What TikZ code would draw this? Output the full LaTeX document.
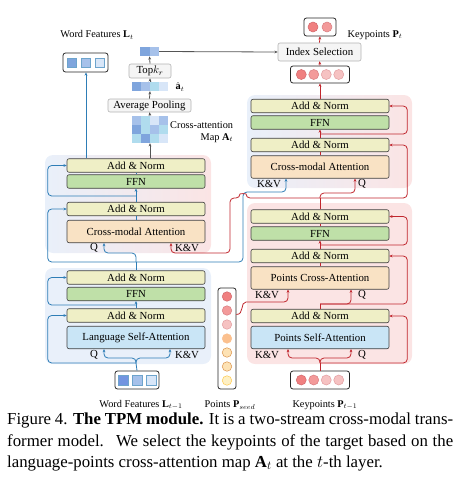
\documentclass[tikz,border=0pt]{standalone}
\usepackage{fontspec}
\setmainfont{Liberation Serif}
\usetikzlibrary{arrows.meta,calc}
\definecolor{bgblue}{HTML}{E9F0FA}
\definecolor{bgpink}{HTML}{FBE4E4}
\definecolor{cyel}{HTML}{EFEFC6}
\definecolor{cgrn}{HTML}{BFE0A8}
\definecolor{corg}{HTML}{F9E2C4}
\definecolor{cblu}{HTML}{C9E5F6}
\definecolor{lblue}{HTML}{2E7DB6}
\definecolor{lred}{HTML}{C0262D}
\definecolor{lgray}{HTML}{555555}
\definecolor{sqA}{HTML}{7FA5DD}
\definecolor{sqB}{HTML}{A6C1EA}
\definecolor{sqC}{HTML}{B0DCEE}
\definecolor{sqD}{HTML}{D8E6F8}
\definecolor{ciA}{HTML}{F08080}
\definecolor{ciB}{HTML}{F39A9A}
\definecolor{ciC}{HTML}{F6C2C2}
\definecolor{ciO}{HTML}{FBC08E}
\definecolor{ciY}{HTML}{FDE2B4}
\definecolor{ciP}{HTML}{FEF0C4}
\tikzset{
  tip/.style={-{Stealth[length=3.2pt,width=2.8pt]}},
  blk/.style={rectangle,rounded corners=2pt,draw=black!75,line width=0.6pt,minimum width=138pt,inner sep=0pt,font=\fontsize{10.8}{12}\selectfont},
  thin/.style={blk,minimum height=13.5pt},
  tall/.style={blk,minimum height=22.5pt},
  opbox/.style={rectangle,rounded corners=2pt,draw=black!30,fill=black!4,line width=0.6pt,inner sep=0pt,minimum height=14pt,font=\fontsize{10.8}{12}\selectfont},
  fbox/.style={rectangle,rounded corners=2.5pt,draw=black!85,line width=0.8pt,fill=white,inner sep=0pt},
  lab/.style={font=\fontsize{10.3}{12}\selectfont,inner sep=0pt},
  bl/.style={draw=lblue,line width=0.8pt,rounded corners=4pt},
  rd/.style={draw=lred,line width=0.8pt,rounded corners=4pt},
  gl/.style={draw=lgray,line width=0.8pt},
  sq/.style={rectangle,minimum size=9.5pt,inner sep=0pt,draw=lblue!70,line width=0.4pt},
  cel/.style={rectangle,minimum size=9pt,inner sep=0pt},
  ci/.style={circle,minimum size=9.5pt,inner sep=0pt,line width=0.5pt},
  captxt/.style={anchor=base west,inner sep=0pt,font=\fontsize{16.8}{20}\selectfont},
}
\begin{document}
\begin{tikzpicture}[x=1pt,y=-1pt]
\useasboundingbox (0,0) rectangle (456,485);
% backgrounds
\shade[left color=bgblue,right color=bgpink,rounded corners=8pt] (45,155) rectangle (211,253);
\fill[bgblue,rounded corners=8pt] (45,268) rectangle (211,364);
\shade[left color=bgblue,right color=bgpink,rounded corners=8pt] (247,95) rectangle (412,188);
\fill[bgpink,rounded corners=8pt] (247,203) rectangle (412,364);

% left stream
\node[thin,fill=cyel] (LAN2) at (136,165.5) {Add \& Norm};
\node[thin,fill=cgrn] (LFFN2) at (136,181.5) {FFN};
\node[thin,fill=cyel] (LAN1) at (136,209) {Add \& Norm};
\node[tall,fill=corg] (LCMA) at (136,231.5) {Cross-modal Attention};
\node[thin,fill=cyel] (LANb2) at (136,277.5) {Add \& Norm};
\node[thin,fill=cgrn] (LFFN1) at (136,294) {FFN};
\node[thin,fill=cyel] (LANb1) at (136,315.5) {Add \& Norm};
\node[tall,fill=cblu] (LSA) at (136,337.5) {Language Self-Attention};

% right stream
\node[thin,fill=cyel] (RAN4) at (320,106) {Add \& Norm};
\node[thin,fill=cgrn] (RFFN2) at (320,122.5) {FFN};
\node[thin,fill=cyel] (RAN3) at (320,145) {Add \& Norm};
\node[tall,fill=corg] (RCMA) at (320,167) {Cross-modal Attention};
\node[thin,fill=cyel] (RAN2) at (320,216.5) {Add \& Norm};
\node[thin,fill=cgrn] (RFFN1) at (320,233.5) {FFN};
\node[thin,fill=cyel] (RAN1) at (320,256) {Add \& Norm};
\node[tall,fill=corg] (RPCA) at (320,278) {Points Cross-Attention};
\node[thin,fill=cyel] (RAN0) at (320,316) {Add \& Norm};
\node[tall,fill=cblu] (RPSA) at (320,337.5) {Points Self-Attention};

% inputs
\node[fbox,minimum width=44pt,minimum height=18pt] (wbin) at (137,380) {};
\node[sq,fill=sqA!90!blue] at ([xshift=-14pt]wbin.center) {};
\node[sq,fill=sqB] at (wbin.center) {};
\node[sq,fill=sqD] at ([xshift=14pt]wbin.center) {};
\node[fbox,minimum width=18pt,minimum height=101pt] (seed) at (227,338.5) {};
\foreach \i/\c/\d in {0/ciA/lred!70,1/ciB/lred!60,2/ciC/lred!45,3/ciO/ciO,4/ciY/orange!80!black!70,5/ciY/orange!80!black!70,6/ciP/orange!60!yellow!70}
  \node[ci,fill=\c,draw=\d] at ([yshift=-\i*14pt+42pt]seed.center) {};
\node[fbox,minimum width=59pt,minimum height=18pt] (kbin) at (320,380) {};
\foreach \dx/\c/\d in {-18.75/ciA/lred!70,-6.25/ciB/lred!60,6.25/ciC/lred!45,18.75/ciC/lred!45}
  \node[ci,minimum size=10pt,fill=\c,draw=\d] at ([xshift=\dx pt]kbin.center) {};

% outputs
\node[fbox,minimum width=45pt,minimum height=19pt] (wbout) at (85.5,62.5) {};
\node[sq,fill=sqA] at ([xshift=-14pt]wbout.center) {};
\node[sq,fill=sqB] at (wbout.center) {};
\node[sq,fill=sqD] at ([xshift=14pt]wbout.center) {};
\node[fbox,minimum width=59pt,minimum height=17pt] (kp4) at (320,74.5) {};
\foreach \dx/\c/\d in {-18.75/ciA/lred!70,-6.25/ciB/lred!60,6.25/ciC/lred!45,18.75/ciC/lred!45}
  \node[ci,minimum size=10pt,fill=\c,draw=\d] at ([xshift=\dx pt]kp4.center) {};
\node[opbox,minimum width=83pt,minimum height=18pt] (idx) at (319.5,52) {Index Selection};
\node[fbox,minimum width=32pt,minimum height=18pt] (kp2) at (320,27) {};
\node[ci,minimum size=10pt,fill=ciA,draw=lred!70] at ([xshift=-7pt]kp2.center) {};
\node[ci,minimum size=10pt,fill=ciB,draw=lred!60] at ([xshift=7pt]kp2.center) {};

% attention map branch
\node[minimum width=36pt,minimum height=27pt,inner sep=0pt] (map) at (150,129.5) {};
\foreach \c [count=\k from 0] in {sqB,sqC,sqD,sqB,sqA,sqC,sqB,sqC,sqC,sqA,sqC,sqD}{
  \pgfmathtruncatemacro{\col}{mod(\k,4)}
  \pgfmathtruncatemacro{\row}{int(\k/4)}
  \node[cel,fill=\c] at ([xshift=\col*9pt-13.5pt,yshift=-\row*9pt+9pt]map.center) {};
}
\node[opbox,minimum width=83pt,minimum height=13pt] (avg) at (149.5,105.5) {Average Pooling};
\node[minimum width=36pt,minimum height=9pt,inner sep=0pt] (ahat) at (150,86.5) {};
\foreach \c [count=\k from 0] in {sqA,sqB,sqC,sqD}
  \node[cel,fill=\c] at ([xshift=\k*9pt-13.5pt]ahat.center) {};
\node[opbox,minimum width=42pt,minimum height=14pt] (topk) at (150,71) {Top$k_r$};
\node[minimum width=19pt,minimum height=9.5pt,inner sep=0pt] (sel) at (149.5,51.5) {};
\node[cel,minimum size=9.5pt,fill=sqA] at ([xshift=-4.75pt]sel.center) {};
\node[cel,minimum size=9.5pt,fill=sqB] at ([xshift=4.75pt]sel.center) {};

% labels
\node[lab] (tWF) at (97,35) {Word Features $\mathbf{L}_t$};
\node[lab] (tKP) at (375,35) {Keypoints $\mathbf{P}_t$};
\node[lab,anchor=west,align=right] (tMap) at (170,132) {Cross-attention\\Map $\mathbf{A}_t$};
\node[lab] (tAh) at (180,87) {$\hat{\mathbf{a}}_t$};
\node[lab] (tWFb) at (141,405) {Word Features $\mathbf{L}_{t-1}$};
\node[lab] (tPS) at (230,405) {Points $\mathbf{P}_{seed}$};
\node[lab] (tKPb) at (325,405) {Keypoints $\mathbf{P}_{t-1}$};
\foreach \nm/\x/\y/\t in {q1/94/248/Q,kv1/187/248/K\&V,q2/94/355/Q,kv2/187/355/K\&V,
  kv3/269/184/K\&V,q3/362/184/Q,kv4/267/295/K\&V,q4/362/295/Q,kv5/267/355/K\&V,q5/362/355/Q}
  \node[lab,font=\fontsize{10.8}{12}\selectfont] (\nm) at (\x,\y) {\t};

% ---- blue connectors (language stream)
\coordinate (jA) at (136,363);
\draw[bl] (wbin.north) -- (jA);
\draw[bl,tip] (jA) -- ++(0,-5) -| ([xshift=-32pt]LSA.south);
\draw[bl,tip] (jA) -- ++(0,-5) -| ([xshift=34pt]LSA.south);
\draw[bl,tip] (jA) -| ([xshift=-19pt]LANb1.west) -- (LANb1.west);
\coordinate (jB) at (136,305);
\draw[bl,tip] (LANb1.north) -- (LFFN1.south);
\draw[bl,tip] (jB) -| ([xshift=-19pt]LANb2.west) -- (LANb2.west);
\coordinate (jC) at (136,262);
\draw[bl] (LANb2.north) -- (jC);
\draw[bl,tip] (jC) -- ++(0,-9) -| ([xshift=-32pt]LCMA.south);
\draw[bl,tip] (jC) -| ([xshift=-19pt]LAN1.west) -- (LAN1.west);
\draw[bl,tip] (jC) -| (243,192) -| ([xshift=-34pt]RCMA.south);
\draw[bl] (LCMA.north) -- (LAN1.south);
\coordinate (jD) at (136,196);
\draw[bl,tip] (LAN1.north) -- (LFFN2.south);
\draw[bl,tip] (jD) -| ([xshift=-19pt]LAN2.west) -- (LAN2.west);
\draw[bl] (LFFN2.north) -- (LAN2.south);
\draw[bl,tip] ([xshift=-50pt]LAN2.north) -- ([xshift=0.5pt]wbout.south);

% ---- red connectors (points stream)
\coordinate (jR1) at (320,363);
\draw[rd] (kbin.north) -- (jR1);
\draw[rd,tip] (jR1) -- ++(0,-5) -| ([xshift=31pt]RPSA.south);
\draw[rd,tip] (jR1) -- ++(0,-5) -| ([xshift=-32pt]RPSA.south);
\draw[rd,tip] (jR1) -| ([xshift=18pt]RAN0.east) -- (RAN0.east);
\coordinate (jR2) at (320,304);
\draw[rd] (RAN0.north) -- (jR2);
\draw[rd,tip] (jR2) -| ([xshift=31pt]RPCA.south);
\draw[rd,tip] (jR2) -| ([xshift=18pt]RAN1.east) -- (RAN1.east);
\draw[rd,tip] ([yshift=24pt]seed.east) .. controls ([yshift=24pt,xshift=8pt]seed.east) and (240,302) .. (250,302) [rounded corners=4pt] -| ([xshift=-32pt]RPCA.south);
\draw[rd] (RPCA.north) -- (RAN1.south);
\coordinate (jR3) at (320,245);
\draw[rd,tip] (RAN1.north) -- (RFFN1.south);
\draw[rd,tip] (jR3) -| ([xshift=18pt]RAN2.east) -- (RAN2.east);
\draw[rd] (RFFN1.north) -- (RAN2.south);
\coordinate (jR4) at (320,198);
\draw[rd] (RAN2.north) -- (jR4);
\draw[rd,tip] (jR4) -- (246,198) .. controls (246,193.5) and (240,193.5) .. (240,198) [rounded corners=4pt] -- (230,198) -- (230,253) -| ([xshift=35pt]LCMA.south);
\draw[rd,tip] (jR4) -- ++(0,-5) -| ([xshift=35pt]RCMA.south);
\draw[rd,tip] (jR4) -| ([xshift=18pt]RAN3.east) -- (RAN3.east);
\draw[rd] (RCMA.north) -- (RAN3.south);
\coordinate (jR5) at (320,134);
\draw[rd,tip] (RAN3.north) -- (RFFN2.south);
\draw[rd,tip] (jR5) -| ([xshift=18pt]RAN4.east) -- (RAN4.east);
\draw[rd,tip] (RAN4.north) -- (kp4.south);
\draw[rd,tip] (kp4.north) -- (idx.south);
\draw[rd,tip] (idx.north) -- (kp2.south);

% ---- gray connectors
\draw[gl,tip] ([xshift=14pt]LAN2.north) -- (map.south);
\draw[gl,tip] (map.north) -- (avg.south);
\draw[gl,tip] (avg.north) -- (ahat.south);
\draw[gl,tip] (ahat.north) -- (topk.south);
\draw[gl,tip] (topk.north) -- (sel.south);
\draw[gl,tip] (sel.east) -- (idx.west);

% caption
\node[captxt] (cap1) at (7,424) {\makebox[446pt][s]{Figure 4. \textbf{The TPM module.} It is a two-stream cross-modal trans-}};
\node[captxt] (cap2) at (7,446) {\makebox[446pt][s]{former model. \ We select the keypoints of the target based on the}};
\node[captxt] (cap3) at (7,467) {language-points cross-attention map $\mathbf{A}_t$ at the $t$-th layer.};
\end{tikzpicture}
\end{document}
